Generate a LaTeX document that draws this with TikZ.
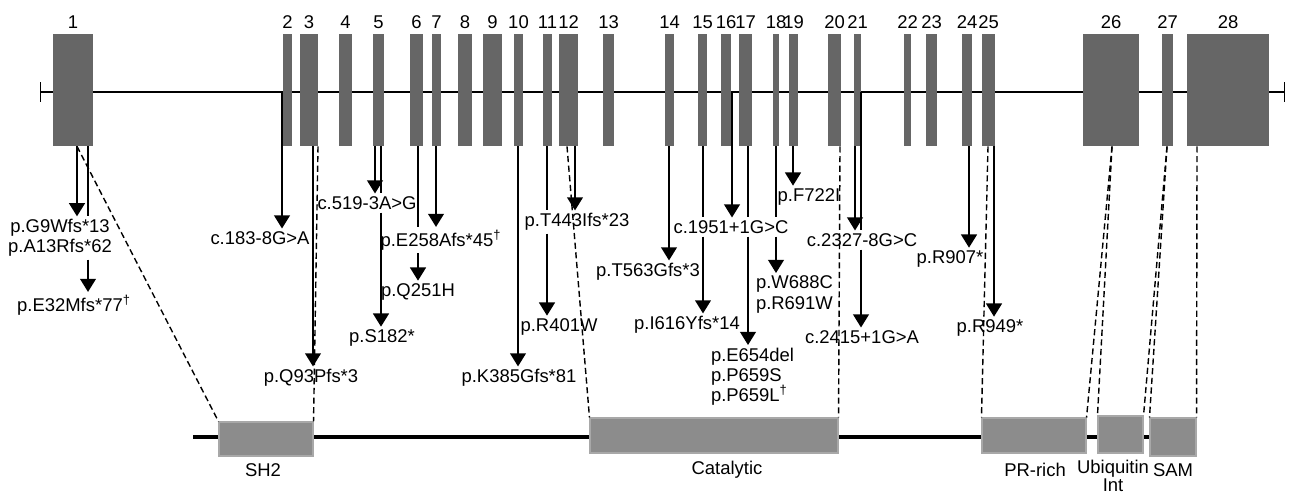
\documentclass[tikz,border=0pt]{standalone}
\usepackage{fontspec}
\setmainfont{Liberation Sans}
\usetikzlibrary{arrows.meta}
\definecolor{exongray}{HTML}{666666}
\definecolor{domgray}{HTML}{8C8C8C}
\definecolor{domedge}{HTML}{A8A8A8}
\begin{document}
\begin{tikzpicture}[x=0.02cm,y=-0.02cm,>={Triangle[width=9pt,length=7.5pt]},
	font=\fontsize{10.5}{11.5}\selectfont,
	exon/.style={fill=exongray,inner sep=0pt,minimum height=2.24cm},
	exnum/.style={inner sep=0pt},
	mut/.style={inner sep=1.5pt,align=center},
	dom/.style={fill=domgray,draw=domedge,line width=.6pt,inner sep=0pt},
	domlbl/.style={inner sep=0pt,align=center},
	mutline/.style={line width=1pt},
	map/.style={line width=.8pt,dash pattern=on 3.5pt off 2pt}]
	\useasboundingbox (0,0) rectangle (1293,495);
	% gene
	\path (40,92) coordinate (gL) (1285,92) coordinate (gR);
	\draw[line width=.8pt,{Bar[width=11pt]}-{Bar[width=11pt]}] (gL)--(gR);
	\foreach \n/\a/\b in {1/53/93,2/283/292,3/300/318,4/339/352,5/373/384,6/410/423,7/432/441,8/458/472,9/483/502,10/514/523,11/543/552,12/559/578,13/603/614,14/665/674,15/698/707,16/721/731,17/739/752,18/773/779,19/789/798,20/828/841,21/854/861,22/904/911,23/926/937,24/962/972,25/982/995,26/1083/1139,27/1162/1173,28/1187/1269}
	{\pgfmathsetmacro\w{(\b-\a)*0.02}
		\node[exon,minimum width=\w cm] (e\n) at ({(\a+\b)/2},90) {};
		\node[exnum] (n\n) at ({(\a+\b)/2},22) {\n};
	}
	% mutations
	\node[mut] (m1) at (60,238) {p.G9Wfs*13\\p.A13Rfs*62};
	\node[mut] (m2) at (74,305) {p.E32Mfs*77\textsuperscript{†}};
	\node[mut] (m3) at (260,238) {c.183-8G>A};
	\node[mut] (m4) at (311,378) {p.Q93Pfs*3};
	\node[mut] (m5) at (367,203) {c.519-3A>G};
	\node[mut] (m6) at (382,338) {p.S182*};
	\node[mut] (m7) at (441,240) {p.E258Afs*45\textsuperscript{†}};
	\node[mut] (m8) at (418,292) {p.Q251H};
	\node[mut] (m9) at (519,378) {p.K385Gfs*81};
	\node[mut] (m10) at (577,222) {p.T443Ifs*23};
	\node[mut] (m11) at (559,327) {p.R401W};
	\node[mut] (m12) at (648,272) {p.T563Gfs*3};
	\node[mut] (m13) at (731,227) {c.1951+1G>C};
	\node[mut] (m14) at (687,325) {p.I616Yfs*14};
	\node[mut,align=left,anchor=north west] (m15) at (708,345) {p.E654del\\p.P659S\\p.P659L\textsuperscript{†}};
	\node[mut,align=left,anchor=north west] (m16) at (753,273) {p.W688C\\p.R691W};
	\node[mut] (m17) at (809,197) {p.F722I};
	\node[mut] (m18) at (862,240) {c.2327-8G>C};
	\node[mut] (m19) at (862,337) {c.2415+1G>A};
	\node[mut] (m20) at (950,259) {p.R907*};
	\node[mut] (m21) at (990,328) {p.R949*};
	\foreach \x/\s/\t in {88/e1.south/m1.north,381/e5.south/m5.north,418/e6.south/m7.north,547/e11.south/m10.north,703/e15.south/m13.north,748/e17.south/m13.north,776/e18.south/m13.north,861/gL/m18.north}
	\draw[mutline] (\x,0 |- \s)--(\x,0 |- \t);
	\foreach \x/\s/\t in {77/e1.south/m1.north,88/m1.south/m2.north,282/gL/m3.north,313/e3.south/m4.north,375/e5.south/m5.north,381/m5.south/m6.north,418/m7.south/m8.north,436/e7.south/m7.north,518/e10.south/m9.north,547/m10.south/m11.north,575/e12.south/m10.north,669/e14.south/m12.north,703/m13.south/m14.north,732/gL/m13.north,748/m13.south/m15.north,776/m13.south/m16.north,793/e19.south/m17.north,855/e21.south/m18.north,861/m18.south/m19.north,969/e24.south/m20.north,994/e25.south/m21.north}
	\draw[mutline,->] (\x,0 |- \s)--(\x,0 |- \t);
	% protein
	\path (193,437) coordinate (pL) (1150,437) coordinate (pR);
	\draw[line width=1.8pt] (pL)--(pR);
	\foreach \d/\a/\t/\b/\u in {sh2/219/422/313/456,cat/590/418/838/453,pr/982/418/1086/453,ubi/1098/416/1143/453,sam/1150/418/1196/456}
	{\pgfmathsetmacro\w{(\b-\a)*0.02}
		\pgfmathsetmacro\h{(\u-\t)*0.02}
		\node[dom,minimum width=\w cm,minimum height=\h cm] (\d) at ({(\a+\b)/2},{(\t+\u)/2}) {};
	}
	\node[domlbl] (lsh2) at (263,470) {SH2};
	\node[domlbl] (lcat) at (727,470) {Catalytic};
	\node[domlbl] (lpr) at (1035,470) {PR-rich};
	\node[domlbl,font=\fontsize{10.5}{10}\selectfont] (lubi) at (1113,476) {Ubiquitin\\Int};
	\node[domlbl] (lsam) at (1173,470) {SAM};
	% exon to domain
	\foreach \x/\e/\d in {77/e1/sh2.north west,318/e3/sh2.north east,567/e12/cat.north west,840/e20/cat.north east,988/e25/pr.north west,1112/e26/pr.north east,1112/e26/ubi.north west,1167/e27/ubi.north east,1167/e27/sam.north west,1197/e28/sam.north east}
	\draw[map] (\x,0 |- \e.south)--(\d);
\end{tikzpicture}
\end{document}
